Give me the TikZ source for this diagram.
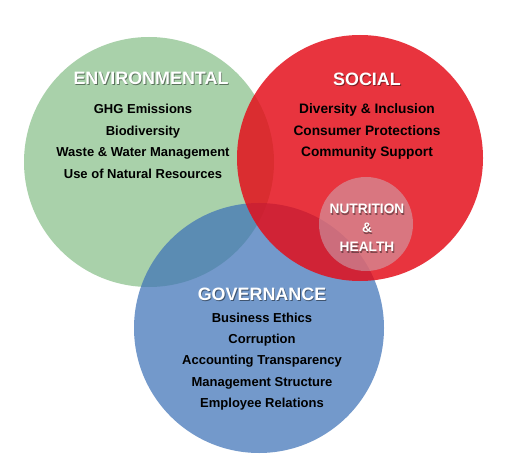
\documentclass[tikz,border=0pt]{standalone}
\usepackage{fontspec}
\setmainfont{Liberation Sans}
\definecolor{envgreen}{RGB}{169,209,170}
\definecolor{socred}{RGB}{228,12,24}
\definecolor{govblue}{RGB}{62,114,183}
\definecolor{nutfill}{RGB}{200,200,210}
\tikzset{
  ttl/.style={text=white,font=\bfseries\fontsize{10.2}{12}\selectfont},
  ttlsh/.style={ttl,text=black,text opacity=0.45},
  nut/.style={text=white,align=center,font=\bfseries\fontsize{7.8}{10.8}\selectfont},
  nutsh/.style={nut,text=black,text opacity=0.4},
  itm/.style={align=center,font=\bfseries\fontsize{7.8}{12.2}\selectfont},
}
% title with a soft drop shadow
\newcommand\shtitle[4]{%
  \node[#2sh] at ([shift={(0.9,1.3)}]#3) {#4};
  \node[#2] (#1) at (#3) {#4};}
\begin{document}
\begin{tikzpicture}[x=0.02cm,y=-0.02cm]
\useasboundingbox[fill=white](0,0)rectangle(517,459);
\pgfmathsetmacro{\r}{125}
% the three circles
\fill[envgreen](149,162)circle(\r);
\fill[govblue,opacity=0.72](259,328)circle(\r);
\fill[socred,opacity=0.83](360,158)circle(123);
\fill[nutfill,opacity=0.45](366,224)circle(47);
% titles
\shtitle{env}{ttl}{151,78}{ENVIRONMENTAL}
\shtitle{soc}{ttl}{367,79}{SOCIAL}
\shtitle{gov}{ttl}{262,294}{GOVERNANCE}
\shtitle{nh}{nut}{367,228}{NUTRITION\\\&\\HEALTH}
% topics
\node[itm,font=\bfseries\fontsize{7.4}{12.3}\selectfont](envitems) at (143,141.5){GHG Emissions\\Biodiversity\\Waste \& Water Management\\Use of Natural Resources};
\node[itm](socitems) at (367,131.5){Diversity \& Inclusion\\Consumer Protections\\Community Support};
\node[itm,font=\bfseries\fontsize{7.4}{12.1}\selectfont](govitems) at (262,361.5){Business Ethics\\Corruption\\Accounting Transparency\\Management Structure\\Employee Relations};
\end{tikzpicture}
\end{document}
